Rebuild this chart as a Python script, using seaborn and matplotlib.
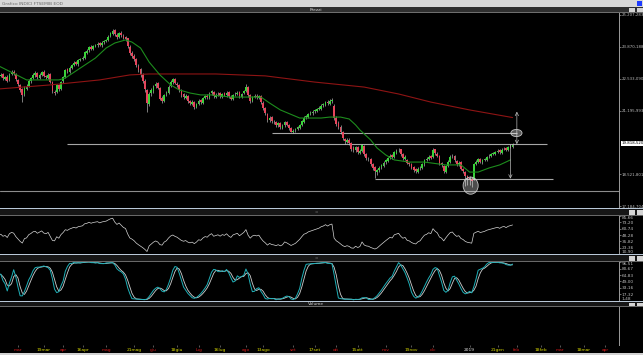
import numpy as np
import pandas as pd
import seaborn as sns
import matplotlib.pyplot as plt
from matplotlib.patches import Rectangle, Ellipse
from matplotlib.transforms import blended_transform_factory

W, H = 643, 355

# trading calendar (Borsa Italiana closures left out)
holidays = ["2018-03-30", "2018-04-02", "2018-05-01", "2018-08-15", "2018-12-24",
            "2018-12-25", "2018-12-26", "2018-12-31", "2019-01-01"]
days = pd.bdate_range("2018-02-16", "2019-04-30", freq="C", holidays=holidays)

# FTSE MIB daily candles, 16 feb 2018 -> 30 gen 2019
opens = [22580, 22640, 22720, 22530, 22620, 22480, 22720, 22820, 22730, 22470,
         22280, 22100, 21880, 22120, 22230, 22420, 22580, 22680, 22770, 22580,
         22680, 22820, 22630, 22580, 22720, 22380, 21980, 21970, 22270, 22080,
         22420, 22620, 22920, 22830, 22980, 23120, 23220, 23130,
         23320, 23380, 23420, 23630, 23720, 23870, 23780, 23920, 23930, 24020,
         23930, 24070, 24120, 24170, 24320, 24430, 24570, 24380, 24280,
         24470, 24330, 24280, 24220, 23880, 23620, 23480, 23370, 23080, 22930,
         22680, 22430, 22050, 21480, 21920, 22030, 22220, 22330, 22130, 21720,
         21580, 21870, 21930, 22220, 22380, 22520, 22330, 22270, 22030, 21870,
         21730, 21820, 21580, 21480, 21570, 21330, 21470, 21620, 21530, 21720,
         21820, 21730, 21920, 21980, 21780, 21870, 21920, 21780, 21920, 21830,
         21970, 21780, 21680, 21870, 21880, 21970, 21780, 21920, 22020, 22180,
         21830, 21580, 21770, 21820, 21730, 21820, 21530, 21280, 21030,
         20780, 20920, 20730, 20720, 20580, 20670, 20480, 20570, 20720, 20580,
         20470, 20280, 20370, 20420, 20480, 20580, 20720, 20920, 20930, 21070,
         21080, 21170, 21180, 21270, 21280, 21420, 21430, 21570, 21480, 21580,
         21400, 20880, 20680, 20520, 20280, 19980, 19880, 19970, 19830,
         19620, 19530, 19670, 19430, 19480, 19720, 19370, 19180, 19170, 18970,
         18820, 18630, 18680, 18820, 18880, 19020, 19080, 19220, 19320, 19230,
         19430, 19520, 19570, 19370, 19180, 19120, 18980, 18970, 18820,
         18720, 18630, 18770, 18780, 18930,
         19120, 19170, 19270, 19250, 19570, 19380, 19280, 18980, 18880, 18630,
         18870, 19030, 19270, 19280, 19080, 18930, 19020, 18730, 18620, 18430,
         18380, 18320, 18300, 18970, 19030, 19170, 19030, 19120, 19130, 19270,
         19280, 19370, 19380, 19470, 19520, 19430, 19570, 19620, 19530, 19670, 19680]
highs = [22720, 22780, 22790, 22660, 22690, 22760, 22880, 22900, 22790, 22530,
         22330, 22150, 22210, 22290, 22510, 22620, 22780, 22840, 22830, 22760,
         22870, 22880, 22700, 22760, 22770, 22420, 22060, 22310, 22330, 22450,
         22660, 22950, 22980, 23060, 23160, 23260, 23280, 23350,
         23420, 23470, 23700, 23770, 23900, 23930, 23960, 24010, 24070, 24080,
         24110, 24160, 24220, 24360, 24510, 24610, 24620, 24450, 24500,
         24520, 24400, 24340, 24260, 23930, 23700, 23560, 23420, 23150, 23000,
         22760, 22500, 22100, 21980, 22150, 22280, 22400, 22380, 22180, 21800,
         21910, 22010, 22260, 22460, 22570, 22580, 22400, 22310, 22090, 21920,
         21880, 21860, 21650, 21620, 21610, 21510, 21660, 21680, 21760, 21860,
         21870, 21960, 22060, 22020, 21920, 21970, 21960, 21950, 21980, 22010,
         22020, 21830, 21900, 21960, 22020, 22010, 21950, 22070, 22300, 22220,
         21870, 21800, 21870, 21880, 21860, 21860, 21580, 21340, 21080,
         20960, 20970, 20800, 20770, 20720, 20710, 20620, 20760, 20770, 20620,
         20510, 20420, 20460, 20560, 20650, 20800, 20960, 21020, 21110, 21170,
         21210, 21270, 21310, 21370, 21450, 21510, 21610, 21630, 21660, 21720,
         21450, 20950, 20750, 20580, 20350, 20060, 20050, 20030, 19890,
         19700, 19720, 19710, 19580, 19810, 19760, 19420, 19260, 19210, 19010,
         18880, 18760, 18860, 18960, 19060, 19160, 19260, 19360, 19380, 19500,
         19560, 19620, 19600, 19400, 19310, 19170, 19050, 19010, 18870,
         18780, 18810, 18870, 19000, 19160,
         19230, 19310, 19330, 19620, 19600, 19440, 19320, 19040, 18920, 18900,
         19110, 19310, 19380, 19320, 19130, 19080, 19060, 18790, 18660, 18500,
         18450, 18400, 19010, 19120, 19210, 19220, 19170, 19220, 19300, 19370,
         19410, 19460, 19510, 19570, 19580, 19610, 19660, 19670, 19710, 19770, 19820]
lows = [22520, 22590, 22490, 22470, 22380, 22430, 22680, 22690, 22440, 22220,
        21980, 21550, 21820, 22060, 22180, 22370, 22520, 22620, 22540, 22510,
        22630, 22590, 22530, 22520, 22340, 21920, 21850, 21930, 22030, 22040,
        22360, 22570, 22780, 22790, 22930, 23060, 23090, 23080,
        23260, 23300, 23380, 23580, 23670, 23730, 23720, 23860, 23880, 23890,
        23880, 24010, 24060, 24120, 24270, 24380, 24340, 24220, 24230,
        24290, 24180, 24120, 23840, 23520, 23420, 23270, 23010, 22800, 22600,
        22350, 21980, 21150, 21400, 21820, 21950, 22150, 22080, 21620, 21500,
        21540, 21800, 21890, 22170, 22330, 22290, 22180, 21980, 21780, 21680,
        21670, 21530, 21420, 21410, 21280, 21290, 21420, 21480, 21490, 21660,
        21690, 21680, 21860, 21740, 21720, 21820, 21740, 21730, 21790, 21780,
        21740, 21640, 21630, 21820, 21830, 21740, 21730, 21870, 21980, 21780,
        21520, 21540, 21720, 21690, 21680, 21480, 21220, 21020, 20720,
        20700, 20680, 20620, 20520, 20520, 20420, 20430, 20520, 20530, 20370,
        20280, 20270, 20300, 20360, 20430, 20540, 20680, 20860, 20880, 21000,
        21020, 21110, 21130, 21210, 21230, 21360, 21380, 21440, 21430, 21520,
        20800, 20560, 20400, 20200, 19960, 19800, 19820, 19760, 19500,
        19460, 19470, 19370, 19360, 19440, 19280, 19120, 19060, 18870, 18700,
        18380, 18500, 18620, 18760, 18830, 18960, 19030, 19160, 19180, 19190,
        19380, 19460, 19290, 19130, 19120, 18930, 18870, 18720, 18620,
        18560, 18580, 18710, 18740, 18880,
        19060, 19110, 19140, 19210, 19330, 19230, 18920, 18820, 18560, 18580,
        18820, 18990, 19200, 19030, 18870, 18880, 18680, 18560, 18020, 18080,
        18050, 17980, 18260, 18900, 18980, 18980, 18970, 19060, 19090, 19210,
        19230, 19310, 19330, 19410, 19390, 19380, 19520, 19490, 19480, 19620, 19640]
closes = [22650, 22700, 22550, 22600, 22450, 22700, 22800, 22750, 22500, 22300,
          22050, 21850, 22150, 22200, 22450, 22550, 22700, 22750, 22600, 22700,
          22800, 22650, 22600, 22700, 22400, 22000, 21950, 22250, 22100, 22400,
          22600, 22900, 22850, 23000, 23100, 23200, 23150, 23300,
          23350, 23400, 23650, 23700, 23850, 23800, 23900, 23950, 24000, 23950,
          24050, 24100, 24150, 24300, 24450, 24550, 24400, 24300, 24450,
          24350, 24250, 24200, 23900, 23600, 23500, 23350, 23100, 22900, 22700,
          22450, 22100, 21500, 21900, 22050, 22200, 22300, 22150, 21700, 21600,
          21850, 21950, 22200, 22400, 22500, 22350, 22250, 22050, 21850, 21750,
          21800, 21600, 21500, 21550, 21350, 21450, 21600, 21550, 21700, 21800,
          21750, 21900, 22000, 21800, 21850, 21900, 21800, 21900, 21850, 21950,
          21800, 21700, 21850, 21900, 21950, 21800, 21900, 22000, 22200, 21850,
          21600, 21750, 21800, 21750, 21800, 21550, 21300, 21100, 20800,
          20900, 20750, 20700, 20600, 20650, 20500, 20550, 20700, 20600, 20450,
          20300, 20350, 20400, 20500, 20600, 20750, 20900, 20950, 21050, 21100,
          21150, 21200, 21250, 21300, 21400, 21450, 21550, 21500, 21600, 21650,
          20900, 20650, 20500, 20300, 20050, 19900, 19950, 19850, 19600,
          19550, 19650, 19450, 19500, 19750, 19350, 19200, 19150, 18950, 18800,
          18650, 18700, 18800, 18900, 19000, 19100, 19200, 19300, 19250, 19450,
          19500, 19550, 19350, 19200, 19250, 19000, 18950, 18800, 18700,
          18650, 18750, 18800, 18950, 19100,
          19150, 19250, 19200, 19550, 19400, 19300, 19000, 18900, 18650, 18850,
          19050, 19250, 19300, 19100, 18950, 19000, 18750, 18650, 18450, 18350,
          18300, 18250, 18950, 19050, 19150, 19050, 19100, 19150, 19250, 19300,
          19350, 19400, 19450, 19500, 19450, 19550, 19600, 19550, 19650, 19700, 19750]
# closes before the window, only used to warm up the RSI
pre_closes = [23600, 23650, 23500, 23450, 23400, 23300, 23200, 22950, 22500,
              22250, 22450, 22100, 21950, 22200, 22250, 22400, 22550]

# moving averages
green_dates = ["2018-02-16", "2018-03-07", "2018-03-15", "2018-03-28", "2018-04-04",
               "2018-04-13", "2018-04-24", "2018-05-02", "2018-05-08", "2018-05-15",
               "2018-05-18", "2018-05-24", "2018-05-30", "2018-06-06", "2018-06-13",
               "2018-06-19", "2018-06-26", "2018-07-03", "2018-07-10", "2018-07-23",
               "2018-08-01", "2018-08-10", "2018-08-17", "2018-08-24", "2018-09-06",
               "2018-09-20", "2018-09-26", "2018-10-03", "2018-10-09", "2018-10-12",
               "2018-10-16", "2018-10-23", "2018-10-26", "2018-11-01", "2018-11-07",
               "2018-11-16", "2018-11-27", "2018-12-11", "2018-12-20", "2019-01-02",
               "2019-01-08", "2019-01-15", "2019-01-22", "2019-01-29"]
green_vals = [23070, 22480, 22480, 22480, 22560, 22980, 23400, 23820, 24030, 24160,
              24070, 23820, 23230, 22690, 22270, 22060, 21930, 21850, 21850, 21760,
              21760, 21760, 21510, 21220, 20880, 20880, 20920, 20920, 20840, 20590,
              20380, 19960, 19620, 19330, 19120, 19030, 19030, 18910, 18910, 18610,
              18610, 18780, 18910, 19120]
red_dates = ["2018-02-16", "2018-03-22", "2018-04-26", "2018-05-17", "2018-05-30",
             "2018-07-12", "2018-08-14", "2018-09-17", "2018-10-18", "2018-11-09",
             "2018-11-30", "2019-01-02", "2019-01-30"]
red_vals = [22100, 22270, 22480, 22690, 22730, 22730, 22650, 22390, 22180, 21890,
            21550, 21220, 20900]

# drawn studies
level_vals = [20250, 19780, 18330]
level_from = ["2018-08-20", "2018-04-05", "2018-10-25"]
level_to = ["2019-02-01", "2019-02-21", "2019-02-26"]
floor_val = 17820
target_val = 21150
last_val = 19818.52
last_tag = "19.818,520"

price_ticks = [17184.704, 18521.801, 21195.993, 22533.090, 23870.188, 25207.283]
rsi_ticks = [10.90, 23.36, 35.82, 48.28, 60.74, 73.20, 85.66]
stoch_ticks = [1.48, 17.32, 33.16, 49.00, 64.83, 80.67, 96.51]

tick_dates = ["2018-03-01", "2018-03-19", "2018-04-03", "2018-04-16", "2018-05-02",
              "2018-05-21", "2018-06-01", "2018-06-18", "2018-07-02", "2018-07-16",
              "2018-08-01", "2018-08-13", "2018-09-03", "2018-09-17", "2018-10-01",
              "2018-10-15", "2018-11-01", "2018-11-19", "2018-12-03", "2019-01-02",
              "2019-01-21", "2019-02-01", "2019-02-18", "2019-03-01", "2019-03-18",
              "2019-04-01"]
tick_text = ["mar", "19mar", "apr", "16apr", "mag", "21mag", "giu", "18giu", "lug",
             "16lug", "ago", "13ago", "set", "17set", "ott", "15ott", "nov", "19nov",
             "dic", "2019", "21gen", "feb", "18feb", "mar", "18mar", "apr"]

sns.set_theme(style="dark", rc={"axes.facecolor": "black", "figure.facecolor": "black"})
plt.rcParams["font.family"] = ["DejaVu Sans"]


def loc(d):
    return days.get_indexer(pd.to_datetime(d))


n = len(closes)
pos = np.arange(n)
o = np.array(opens, float)
hi = np.array(highs, float)
lo = np.array(lows, float)
c = np.array(closes, float)

# indicators
allc = pd.Series(pre_closes + closes, dtype=float)
d = allc.diff()
gain = d.clip(lower=0).ewm(alpha=1 / 14, adjust=False).mean()
loss = (-d.clip(upper=0)).ewm(alpha=1 / 14, adjust=False).mean()
rsi = (100 - 100 / (1 + gain / loss)).iloc[len(pre_closes):].to_numpy()

hh = pd.Series(hi).rolling(14, min_periods=1).max()
ll = pd.Series(lo).rolling(14, min_periods=1).min()
k_raw = 100 * (pd.Series(c) - ll) / (hh - ll)
stoch_k = k_raw.rolling(3, min_periods=1).mean()
stoch_d = stoch_k.rolling(3, min_periods=1).mean()

XLIM = (0.63, 288.5)
GREEN, RED = "#3ad23a", "#e6455c"

fig = plt.figure(figsize=(W / 100, H / 100), dpi=100)


def px_axes(x0, y0, x1, y1):
    return fig.add_axes([x0 / W, 1 - y1 / H, (x1 - x0) / W, (y1 - y0) / H])


def band(y0, y1, color, x0=0, x1=W, z=1):
    fig.add_artist(Rectangle((x0 / W, 1 - y1 / H), (x1 - x0) / W, (y1 - y0) / H,
                             transform=fig.transFigure, facecolor=color,
                             edgecolor="none", zorder=z))


def buttons(y0, y1):
    band(y0, y1, "#d4d4d4", 629, 635, z=3)
    band(y0, y1, "#d4d4d4", 637, 643, z=3)


def panel(y0, y1):
    ax = px_axes(0, y0, 619, y1)
    ax.set_facecolor("black")
    ax.set_xlim(*XLIM)
    for s in ["top", "left", "bottom"]:
        ax.spines[s].set_visible(False)
    ax.spines["right"].set_color("#9c9c9c")
    ax.spines["right"].set_linewidth(0.7)
    ax.yaxis.tick_right()
    ax.tick_params(axis="y", colors="#bdbdbd", labelsize=3.1, length=1.2,
                   width=0.4, pad=0.8)
    ax.set_xticks([])
    ax.grid(False)
    return ax


def fmt2(v):
    return f"{v:.2f}".replace(".", ",")


def clamp_labels(ax):
    labs = ax.get_yticklabels()
    labs[0].set_va("bottom")
    labs[-1].set_va("top")


# ---- price panel
ax = panel(12, 208)
ax.set_ylim(17101, 25333)
ax.axhline(floor_val, color="#8c8c8c", lw=0.8)
ax.hlines(level_vals, loc(level_from), loc(level_to), color="#a6a6a6", lw=0.8)

ax.vlines(pos, lo, hi, color="#c4c4c4", lw=0.45, zorder=3)
ax.bar(pos, np.abs(c - o), bottom=np.minimum(o, c), width=0.8,
       color=np.where(c >= o, GREEN, RED), linewidth=0, zorder=4)

sns.lineplot(x=loc(red_dates), y=red_vals, ax=ax, color="#8e1414", lw=0.8,
             sort=False, zorder=5)
sns.lineplot(x=loc(green_dates), y=green_vals, ax=ax, color="#1d8c1d", lw=0.8,
             sort=False, zorder=5)

x_end = loc(["2019-02-01"])[0]
x_mid = loc(["2019-01-29"])[0]
ax.annotate("", xy=(x_end, target_val), xytext=(x_end, level_vals[1]),
            arrowprops=dict(arrowstyle="<->", color="#b8b8b8", lw=0.5,
                            mutation_scale=6, shrinkA=0, shrinkB=0), zorder=6)
ax.annotate("", xy=(x_mid, level_vals[2]), xytext=(x_mid, level_vals[1] - 40),
            arrowprops=dict(arrowstyle="->", color="#b8b8b8", lw=0.5,
                            mutation_scale=6, shrinkA=0, shrinkB=0), zorder=6)
ax.add_patch(Ellipse((x_end - 0.2, level_vals[0]), 5.2, 300, facecolor=(1, 1, 1, 0.35),
                     edgecolor="#c8c8c8", lw=0.6, zorder=7))
low_i = int(np.argmin(lo))
ax.add_patch(Ellipse((low_i - 0.5, lo[low_i] + 60), 7.0, 720, facecolor=(1, 1, 1, 0.3),
                     edgecolor="#c8c8c8", lw=0.6, zorder=7))

ax.set_yticks(price_ticks)
ax.set_yticklabels([f"{v:,.3f}".replace(",", " ").replace(".", ",").replace(" ", ".")
                    for v in price_ticks])
ax.tick_params(axis="y", labelsize=2.75)
tr = blended_transform_factory(ax.transAxes, ax.transData)
ax.text(1.0035, last_val, last_tag, transform=tr, fontsize=2.75, color="black",
        va="center", ha="left",
        bbox=dict(facecolor="white", edgecolor="none", pad=0.35), clip_on=False)

# ---- RSI
ax_r = panel(216, 254)
sns.lineplot(x=pos, y=rsi, ax=ax_r, color="#d6d6d6", lw=0.5)
ax_r.set_ylim(rsi_ticks[0], rsi_ticks[-1])
ax_r.set_yticks(rsi_ticks)
ax_r.set_yticklabels([fmt2(v) for v in rsi_ticks])
clamp_labels(ax_r)

# ---- Stochastic
ax_s = panel(262, 301)
sns.lineplot(x=pos, y=stoch_d.to_numpy(), ax=ax_s, color="#cfcfcf", lw=0.6)
sns.lineplot(x=pos, y=stoch_k.to_numpy(), ax=ax_s, color="#1fb0b8", lw=0.7)
ax_s.set_ylim(stoch_ticks[0], stoch_ticks[-1])
ax_s.set_yticks(stoch_ticks)
ax_s.set_yticklabels([fmt2(v) for v in stoch_ticks])
clamp_labels(ax_s)

# ---- Volume (empty) + date axis
ax_v = panel(307, 345)
ax_v.set_yticks([])
ax_v.set_xticks(loc(tick_dates))
ax_v.set_xticklabels(tick_text)
ax_v.tick_params(axis="x", bottom=True, colors="#9a9a9a", length=1.2, width=0.4,
                 pad=0.8, labelsize=3.2)
for t in ax_v.get_xticklabels():
    s = t.get_text()
    if s.isdigit():
        t.set_color("#e6e6e6")
    elif s[0].isdigit():
        t.set_color("#d6d600")
    else:
        t.set_color("#d01818")

# ---- window chrome
band(0, 7, "#d8d8d8")
band(7, 12, "#2f2f2f")
band(12, 12.8, "#6e6e6e")
band(1, 6, "#1f3cff", 637, 642, z=3)
buttons(8, 11.5)
fig.text(2 / W, 1 - 3.6 / H, "Grafico INDICI FTSEMIB EOD", fontsize=3.2,
         color="#6a6a6a", va="center", ha="left")
fig.text(316 / W, 1 - 9.8 / H, "Prezzi", fontsize=3.2, color="#cfcfcf",
         va="center", ha="center")
for y0, y1 in [(208, 216), (254, 262), (301, 307)]:
    band(y0, y0 + 1.4, "#b9c8d8")
    band(y0 + 1.4, y1 - 1, "#161616")
    band(y1 - 1, y1, "#686868")
    buttons(y0 + 2, y1 - 1.5)
fig.text(316 / W, 1 - 212.5 / H, "=", fontsize=3, color="#8a8a8a", ha="center", va="center")
fig.text(316 / W, 1 - 258.5 / H, "=", fontsize=3, color="#8a8a8a", ha="center", va="center")
fig.text(316 / W, 1 - 304 / H, "Volume", fontsize=3.2, color="#cfcfcf",
         va="center", ha="center")
band(352.5, 355, "#d2d2d2")

fig.savefig("out.png", dpi=100, facecolor="black")
